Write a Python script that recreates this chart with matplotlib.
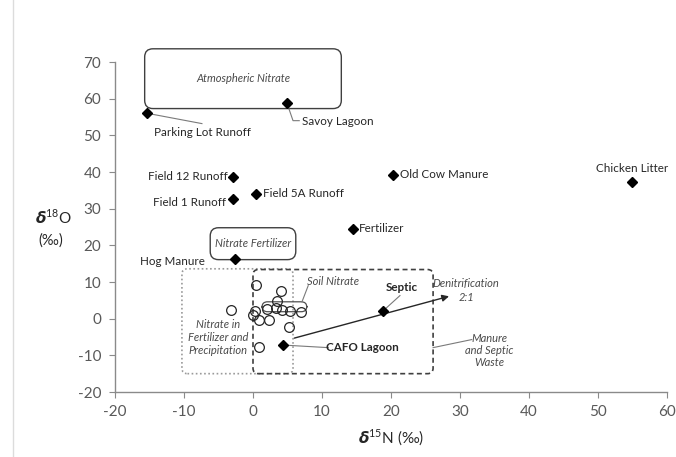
import matplotlib
matplotlib.use("Agg")
import matplotlib.pyplot as plt
from matplotlib.patches import FancyBboxPatch
from matplotlib.lines import Line2D

plt.rcParams['font.family'] = ['Lato', 'DejaVu Sans']
plt.rcParams['axes.unicode_minus'] = False

# Nitrate source end-members (d15N, d18O in permil)
source_names = ["Parking Lot Runoff", "Savoy Lagoon", "Field 12 Runoff", "Field 1 Runoff",
                "Field 5A Runoff", "Old Cow Manure", "Chicken Litter", "Fertilizer",
                "Hog Manure", "Septic", "CAFO Lagoon"]
source_d15N = [-15.3, 4.9, -2.9, -2.9, 0.4, 20.3, 54.9, 14.5, -2.6, 18.9, 4.4]
source_d18O = [56.0, 58.9, 38.7, 32.7, 34.1, 39.3, 37.4, 24.5, 16.4, 2.2, -7.2]

# Soil nitrate samples
soil_d15N = [0.4, 4.1, 3.5, -3.2, 0.3, 0.0, 2.0, 3.4, 4.2, 5.3, 6.9, 0.9, 2.3, 5.2, 0.9]
soil_d18O = [9.2, 7.6, 4.9, 2.4, 2.2, 1.1, 2.6, 2.9, 2.4, 2.2, 1.7, -0.5, -0.5, -2.4, -7.6]

x_ticks = [-20, -10, 0, 10, 20, 30, 40, 50, 60]
y_ticks = [-20, -10, 0, 10, 20, 30, 40, 50, 60, 70]

W, H = 676, 457
fig = plt.figure(figsize=(W / 100, H / 100), dpi=100)
fig.patch.set_facecolor("white")
ax = fig.add_axes([115 / W, (H - 392) / H, (667 - 115) / W, 330 / H])
ax.set_xlim(-20, 60)
ax.set_ylim(-20, 70)
ax.set_facecolor("none")

for s in ["top", "right"]:
    ax.spines[s].set_visible(False)
for s in ["left", "bottom"]:
    ax.spines[s].set_color("#8a8a8a")
    ax.spines[s].set_linewidth(1.0)
ax.set_xticks(x_ticks)
ax.set_yticks(y_ticks)
ax.tick_params(direction="out", length=4, color="#8a8a8a", labelsize=11,
               labelcolor="#595959")
ax.tick_params(axis="y", pad=6)
ax.tick_params(axis="x", pad=5)

# faint outer frame line on the left
fig.add_artist(Line2D([13 / W, 13 / W], [0, 1], color="#dcdcdc", lw=1.0))

# aspect ratio of data units for round corners
asp = (330 / 90) / (552 / 80)

def rbox(x0, y0, x1, y1, ls="-", color="#404040", lw=1.0, r=1.2):
    p = FancyBboxPatch((x0, y0), x1 - x0, y1 - y0,
                       boxstyle=f"round,pad=0,rounding_size={r}",
                       mutation_aspect=1 / asp, fc="none", ec=color, lw=lw,
                       ls=ls, clip_on=False, zorder=2)
    ax.add_patch(p)

ital = dict(style="italic", color="#4a4a4a", fontsize=8, ha="center", va="center")
lab = dict(color="#262626", fontsize=8.4, va="center")
lead = dict(color="#7a7a7a", lw=0.8)

# Region boxes
rbox(-15.7, 57.3, 12.8, 73.6)
ax.text(-1.45, 65.4, "Atmospheric Nitrate", **ital)
rbox(-6.2, 16.1, 6.2, 24.8)
ax.text(0, 20.4, "Nitrate Fertilizer", **ital)
rbox(-10.3, -15.0, 5.8, 13.6, ls=(0, (1, 1.5)), color="#9a9a9a", lw=1.2, r=0.8)
rbox(0.0, -15.0, 26.1, 13.4, ls=(0, (3, 2)), color="#404040", lw=1.2, r=0.8)
rbox(1.3, 1.9, 7.8, 4.6, color="#505050", lw=0.9, r=0.8)

ax.text(-5.1, -5.1, "Nitrate in\nFertilizer and\nPrecipitation", linespacing=1.25, **ital)
ax.text(11.6, 10.1, "Soil Nitrate", **ital)
ax.plot([8.0, 7.1], [9.0, 4.6], **lead)
ax.text(30.9, 7.6, "Denitrification\n2:1", linespacing=1.3, **ital)
ax.text(34.3, -8.7, "Manure\nand Septic\nWaste", linespacing=1.1, **ital)
ax.plot([26.1, 31.7], [-7.9, -5.7], **lead)

# Denitrification arrow
ax.annotate("", xy=(28.8, 6.3), xytext=(5.6, -5.5),
            arrowprops=dict(arrowstyle="-|>", color="#262626", lw=1.0,
                            mutation_scale=10), zorder=4)

# Soil nitrate samples
ax.plot(soil_d15N, soil_d18O, "o", ms=7, mfc="none", mec="#262626", mew=0.9,
        zorder=3)

# Source points
ax.plot(source_d15N, source_d18O, "D", ms=5.6, color="black", zorder=5,
        clip_on=False, ls="none")

src = dict(zip(source_names, zip(source_d15N, source_d18O)))

# Source labels
ax.plot([src["Parking Lot Runoff"][0], -7.4], [src["Parking Lot Runoff"][1], 53.2], **lead)
ax.text(-7.4, 50.9, "Parking Lot Runoff", ha="center", **lab)
ax.plot([src["Savoy Lagoon"][0], 5.8, 6.7], [src["Savoy Lagoon"][1], 54.0, 54.0], **lead)
ax.text(7.1, 53.9, "Savoy Lagoon", ha="left", **lab)
ax.text(-3.7, src["Field 12 Runoff"][1], "Field 12 Runoff", ha="right", **lab)
ax.text(-3.9, 31.8, "Field 1 Runoff", ha="right", **lab)
ax.text(1.4, src["Field 5A Runoff"][1], "Field 5A Runoff", ha="left", **lab)
ax.text(21.3, src["Old Cow Manure"][1], "Old Cow Manure", ha="left", **lab)
ax.text(54.9, 40.9, "Chicken Litter", ha="center", **lab)
ax.text(15.4, src["Fertilizer"][1], "Fertilizer", ha="left", **lab)
ax.text(-7.0, 15.6, "Hog Manure", ha="right", **lab)
ax.plot([src["Septic"][0], 21.3], [src["Septic"][1], 6.3], **lead)
ax.text(21.6, 8.5, "Septic", ha="center", fontweight="bold", **lab)
ax.plot([src["CAFO Lagoon"][0], 10.9], [src["CAFO Lagoon"][1], -7.9], **lead)
ax.text(15.9, -7.9, "CAFO Lagoon", ha="center", fontweight="bold", **lab)

# Axis titles
fig.text(53 / W, 1 - 217 / H, r"$\boldsymbol{\delta}^{\mathregular{18}}$O", ha="center",
         va="center", fontsize=11, color="#262626")
fig.text(51 / W, 1 - 241 / H, "(‰)", ha="center", va="center", fontsize=10.5,
         color="#262626")
fig.text(391 / W, 1 - 438 / H, r"$\boldsymbol{\delta}^{\mathregular{15}}$N (‰)", ha="center",
         va="center", fontsize=11, color="#262626")

fig.savefig("out.png", dpi=100)
